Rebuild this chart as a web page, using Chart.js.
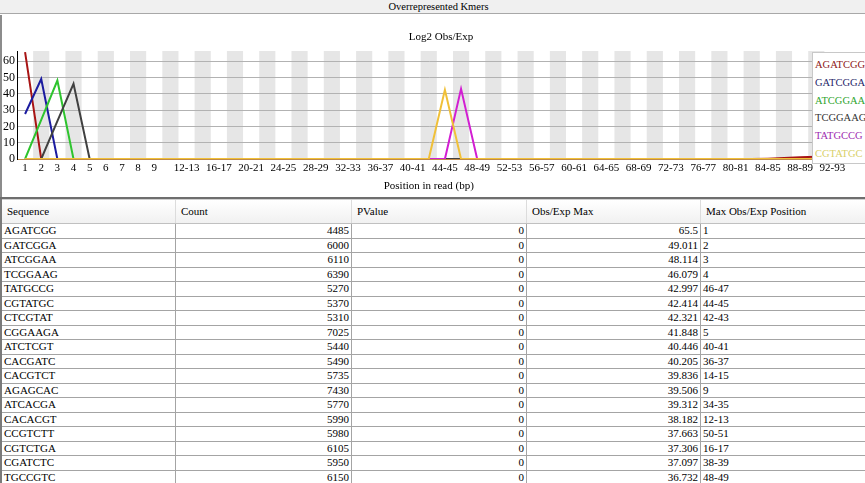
<!DOCTYPE html>
<html><head><meta charset="utf-8">
<script src="https://cdn.jsdelivr.net/npm/chart.js@4.4.0/dist/chart.umd.min.js"></script>
<style>
html,body{margin:0;padding:0;background:#fff;width:865px;height:483px;overflow:hidden;font-family:"Liberation Serif",serif;color:#000;}
#bar{position:absolute;left:0;top:0;width:865px;height:14px;background:#f0f0f0;border-bottom:1px solid #a8a8a8;font-size:10.5px;line-height:14px;text-align:center;box-sizing:border-box;padding-left:12px;}
#panel{position:absolute;left:0;top:15px;width:2px;height:182px;background:#8c8c8c;}
#wrap{position:absolute;left:2px;top:15px;width:863px;height:182px;background:#fff;overflow:hidden;}
#sep{position:absolute;left:0;top:197px;width:865px;height:2px;background:#6e6e6e;}
#legend{position:absolute;left:812px;top:52px;width:60px;height:107px;padding-top:3px;background:#fff;border:1px solid #c8c8c8;box-sizing:content-box;}
#legend div{height:17.8px;line-height:17.8px;font-size:10.5px;padding-left:2px;white-space:nowrap;}
#table{position:absolute;left:0;top:199px;width:865px;height:284px;overflow:hidden;border-left:2px solid #7a7a7a;box-sizing:border-box;}
.row{display:flex;height:14.5px;box-sizing:border-box;border-bottom:1px solid #a4a4a4;}
.hdr{height:25px;border-bottom:1px solid #c0c0c0;background:linear-gradient(#ffffff,#f1f1f1);border-top:1px solid #d0d0d0;}
.c{box-sizing:border-box;border-right:1px solid #a4a4a4;overflow:hidden;white-space:nowrap;padding:0 2px;font-size:11px;line-height:13.5px;}
.hdr .c{line-height:23px;padding-left:5px;border-right:1px solid #dcdcdc;}
.r{text-align:right;}
</style></head>
<body>
<div id="bar">Overrepresented Kmers</div>
<div id="panel"></div>
<div id="wrap"><canvas id="cv" width="878" height="182"></canvas></div>
<div id="legend"></div>
<div id="sep"></div>
<div id="table"></div>
<script>
// ---- chart data ----
const positions = ['1','2','3','4','5','6','7','8','9','10-11','12-13','14-15','16-17','18-19','20-21','22-23','24-25','26-27','28-29','30-31','32-33','34-35','36-37','38-39','40-41','42-43','44-45','46-47','48-49','50-51','52-53','54-55','56-57','58-59','60-61','62-63','64-65','66-67','68-69','70-71','72-73','74-75','76-77','78-79','80-81','82-83','84-85','86-87','88-89','90-91','92-93'];
const xTickLabels = ['1','2','3','4','5','6','7','8','9','12-13','16-17','20-21','24-25','28-29','32-33','36-37','40-41','44-45','48-49','52-53','56-57','60-61','64-65','68-69','72-73','76-77','80-81','84-85','88-89','92-93'];
const yTickValues = [0,10,20,30,40,50,60];
const kmerNames = ['AGATCGG','GATCGGA','ATCGGAA','TCGGAAG','TATGCCG','CGTATGC'];
const valsAGATCGG = [65.5,0,0,0,0,0,0,0,0,0,0,0,0,0,0,0,0,0,0,0,0,0,0,0,0,0,0,0,0,0,0,0,0,0,0,0,0,0,0,0,0,0,0,0,0,0,0.2,0.6,1.0,1.4,1.8];
const valsGATCGGA = [27.6,49.0,0,0,0,0,0,0,0,0,0,0,0,0,0,0,0,0,0,0,0,0,0,0,0,0,0,0,0,0,0,0,0,0,0,0,0,0,0,0,0,0,0,0,0,0,0,0,0,0,0];
const valsATCGGAA = [0,24.0,48.1,0,0,0,0,0,0,0,0,0,0,0,0,0,0,0,0,0,0,0,0,0,0,0,0,0,0,0,0,0,0,0,0,0,0,0,0,0,0,0,0,0,0,0,0,0,0,0,0];
const valsTCGGAAG = [0,0,23.2,46.1,0,0,0,0,0,0,0,0,0,0,0,0,0,0,0,0,0,0,0,0,0,0,0,0,0,0,0,0,0,0,0,0,0,0,0,0,0,0,0,0,0,0,0,0,0,0,0];
const valsTATGCCG = [0,0,0,0,0,0,0,0,0,0,0,0,0,0,0,0,0,0,0,0,0,0,0,0,0,0,0,43.0,0,0,0,0,0,0,0,0,0,0,0,0,0,0,0,0,0,0,0,0,0,0,0];
const valsCGTATGC = [0,0,0,0,0,0,0,0,0,0,0,0,0,0,0,0,0,0,0,0,0,0,0,0,0,0,42.4,0,0,0,0,0,0,0,0,0,0,0,0,0,0,0,0,0,0,0,0,0,0,0,0];
const seriesValues = [valsAGATCGG,valsGATCGGA,valsATCGGAA,valsTCGGAAG,valsTATGCCG,valsCGTATGC];

// ---- table data ----
const tblHeaders = ['Sequence','Count','PValue','Obs/Exp Max','Max Obs/Exp Position'];
const tblSequence = ['AGATCGG','GATCGGA','ATCGGAA','TCGGAAG','TATGCCG','CGTATGC','CTCGTAT','CGGAAGA','ATCTCGT','CACGATC','CACGTCT','AGAGCAC','ATCACGA','CACACGT','CCGTCTT','CGTCTGA','CGATCTC','TGCCGTC'];
const tblCount = ['4485','6000','6110','6390','5270','5370','5310','7025','5440','5490','5735','7430','5770','5990','5980','6105','5950','6150'];
const tblPValue = ['0','0','0','0','0','0','0','0','0','0','0','0','0','0','0','0','0','0'];
const tblObsExpMax = ['65.5','49.011','48.114','46.079','42.997','42.414','42.321','41.848','40.446','40.205','39.836','39.506','39.312','38.182','37.663','37.306','37.097','36.732'];
const tblMaxPos = ['1','2','3','4','46-47','44-45','42-43','5','40-41','36-37','14-15','9','34-35','12-13','50-51','16-17','38-39','48-49'];

// ---- styles ----
const lineColors = ['#a81414','#1c1ca0','#2ec42e','#404040','#d21ed2','#f0c038'];
const legendColors = ['#8e2020','#262668','#2ea42e','#333333','#a02cb0','#d8d068'];
const serif = '"Liberation Serif", "Times New Roman", serif';

const stripes = {
  id:'stripes',
  beforeDraw(chart){
    const {ctx, chartArea:a, scales:{x}} = chart;
    const w = x.getPixelForValue(1) - x.getPixelForValue(0);
    ctx.save();
    ctx.fillStyle = '#e6e6e6';
    for(let i=1;i<positions.length;i+=2){
      const c = x.getPixelForValue(i);
      ctx.fillRect(c - w/2, a.top, w, a.bottom - a.top);
    }
    ctx.restore();
  }
};

new Chart(document.getElementById('cv').getContext('2d'), {
  type:'line',
  data:{
    labels: positions,
    datasets: kmerNames.map((n,i)=>({label:n, data:seriesValues[i], order:kmerNames.length-1-i, borderColor:lineColors[i], backgroundColor:lineColors[i], borderWidth:2, pointRadius:0, tension:0, fill:false, yAxisID:'y'}))
  },
  options:{
    responsive:false, animation:false,
    layout:{padding:{left:0,right:0,top:0,bottom:0}},
    plugins:{
      legend:{display:false},
      tooltip:{enabled:false},
      title:{display:true, text:'Log2 Obs/Exp', color:'#000', font:{family:serif,size:11,weight:'normal'}, padding:{top:16,bottom:6.8}}
    },
    scales:{
      x:{
        offset:true,
        grid:{display:false, drawTicks:false},
        border:{display:true, color:'#c08a48', width:1},
        ticks:{autoSkip:false, maxRotation:0, minRotation:0, padding:3, color:'#000', font:{family:serif,size:11},
          callback:function(v,i){const l=positions[i]; return xTickLabels.includes(l)?l:'';}},
        title:{display:true, text:'Position in read (bp)', color:'#000', font:{family:serif,size:11}, padding:{top:0,bottom:4}},
        afterFit:s=>{s.height=38;}
      },
      y:{
        min:0, max:66.2,
        grid:{color:'#b2b2b2', lineWidth:1, drawTicks:false},
        border:{display:true, color:'#000', width:1},
        ticks:{padding:2, color:'#000', font:{family:serif,size:12}, stepSize:10},
        afterBuildTicks:s=>{s.ticks = yTickValues.map(v=>({value:v}));},
        afterFit:s=>{s.width=15;}
      },
      yr:{
        position:'right', display:true,
        grid:{display:false, drawTicks:false},
        border:{display:false},
        ticks:{display:false},
        afterFit:s=>{s.width=39.5;}
      }
    }
  },
  plugins:[stripes]
});

// legend (html text)
const lg = document.getElementById('legend');
kmerNames.forEach((n,i)=>{const d=document.createElement('div'); d.textContent=n; d.style.color=legendColors[i]; lg.appendChild(d);});

// table
const widths = [174,176,175,174,170];
const tb = document.getElementById('table');
function mkRow(cells, cls, aligns){
  const r = document.createElement('div'); r.className='row'+(cls?' '+cls:'');
  cells.forEach((t,j)=>{const c=document.createElement('div'); c.className='c'+(aligns[j]?' r':''); c.style.width=widths[j]+'px'; c.style.flex='0 0 '+widths[j]+'px'; c.textContent=t; r.appendChild(c);});
  tb.appendChild(r);
}
mkRow(tblHeaders,'hdr',[0,0,0,0,0]);
tblSequence.forEach((s,i)=>mkRow([s,tblCount[i],tblPValue[i],tblObsExpMax[i],tblMaxPos[i]],'',[0,1,1,1,0]));
</script>
</body></html>
